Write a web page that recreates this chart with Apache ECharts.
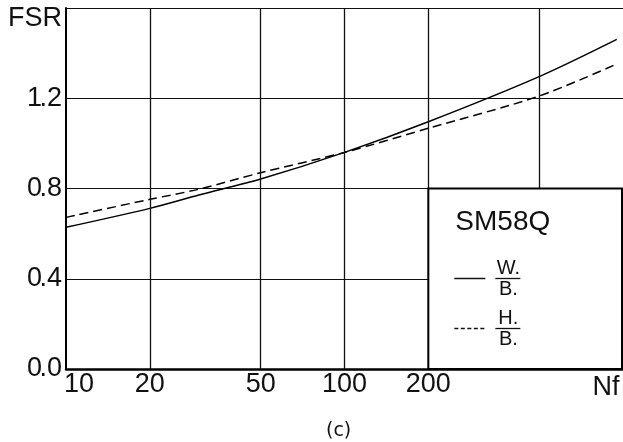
<!DOCTYPE html>
<html>
<head>
<meta charset="utf-8">
<script src="https://cdn.jsdelivr.net/npm/echarts@6/dist/echarts.min.js"></script>
<style>
  html, body { margin: 0; padding: 0; background: #fff; }
  #chart { width: 623px; height: 442px; }
</style>
</head>
<body>
<div id="chart"></div>
<script>
// Cycles to failure (log scale) and the two FSR ratios
const nfValues = [10, 20, 30, 50, 100, 200, 500, 950];
const wbValues = [0.628, 0.712, 0.771, 0.842, 0.960, 1.096, 1.296, 1.461];
const hbValues = [0.672, 0.752, 0.797, 0.870, 0.960, 1.067, 1.210, 1.352];

// Axis ticks, grid positions and texts
const xTickValues = [10, 20, 50, 100, 200];
const xGridValues = [20, 50, 100, 200, 500];
const yTickLabels = ['0.0', '0.4', '0.8', '1.2'];
const xName = 'Nf';
const yName = 'FSR';
const specimen = 'SM58Q';
const wbLabel = ['W.', 'B.'];
const hbLabel = ['H.', 'B.'];
const caption = '(c)';

const FONT = 'Liberation Sans';
const chart = echarts.init(document.getElementById('chart'), null, { renderer: 'canvas' });

const pairs = vals => nfValues.map((n, i) => [n, vals[i]]);

// Tick labels with a tightly set decimal point
const tightDecimal = s => {
  const parts = s.split('.');
  return '{d|' + parts[0] + '}{p|.}{d|' + parts[1] + '}';
};

chart.setOption({
  animation: false,
  backgroundColor: '#fff',
  title: {
    text: caption,
    left: 321, top: 417,
    textStyle: { fontFamily: 'DejaVu Sans', fontSize: 19, fontWeight: 'normal', color: '#111' }
  },
  grid: { left: 66, right: -5, top: 8, bottom: 73, containLabel: false },
  xAxis: {
    type: 'log', logBase: 10, min: 10, max: 1000,
    name: xName, nameLocation: 'end', nameGap: -17,
    nameTextStyle: {
      fontFamily: FONT, fontSize: 27, color: '#111',
      align: 'center', verticalAlign: 'top', padding: [5, 0, 0, 0]
    },
    axisLine: { show: true, onZero: false, lineStyle: { color: '#000', width: 2.5 } },
    axisTick: { show: false },
    minorTick: { show: false },
    splitLine: { show: false },
    axisLabel: {
      customValues: xTickValues,
      margin: 2,
      fontFamily: FONT, fontSize: 27, color: '#111',
      formatter: v => (v === xTickValues[0] ? '{s|' + v + '}' : String(v)),
      rich: { s: { fontFamily: FONT, fontSize: 27, color: '#111', padding: [0, 0, 0, 26] } }
    }
  },
  yAxis: {
    type: 'value', min: 0, max: 1.6, interval: 0.4,
    name: yName, nameLocation: 'end', nameGap: -11,
    nameTextStyle: {
      fontFamily: FONT, fontSize: 27, color: '#111',
      align: 'right', verticalAlign: 'middle', padding: [0, 4, 0, 0]
    },
    axisLine: { show: true, onZero: false, lineStyle: { color: '#000', width: 2 } },
    axisTick: { show: false },
    splitLine: { show: true, lineStyle: { color: '#111', width: 1.2 } },
    axisLabel: {
      margin: 4,
      fontFamily: FONT, fontSize: 27, color: '#111',
      formatter: v => {
        const s = yTickLabels[Math.round(v / 0.4)];
        return s ? tightDecimal(s) : '';
      },
      rich: {
        d: { fontFamily: FONT, fontSize: 27, color: '#111' },
        p: { fontFamily: FONT, fontSize: 27, color: '#111', width: 5 }
      }
    }
  },
  series: [
    {
      name: 'W/B', type: 'line', data: pairs(wbValues),
      smooth: 0.3, symbol: 'none', z: 3,
      lineStyle: { color: '#000', width: 1.5, type: 'solid' },
      markLine: {
        silent: true, symbol: 'none', animation: false,
        label: { show: false },
        lineStyle: { color: '#111', width: 1.3, type: 'solid' },
        data: xGridValues.map(v => ({ xAxis: v }))
      }
    },
    {
      name: 'H/B', type: 'line', data: pairs(hbValues),
      smooth: 0.3, symbol: 'none', z: 3,
      lineStyle: { color: '#000', width: 1.5, type: [9, 5] }
    }
  ]
});

// Legend panel anchored to the 200-cycle / 0.8 grid corner
const [bx0, by0] = chart.convertToPixel({ gridIndex: 0 }, [200, 0.8]);
const [, by1] = chart.convertToPixel({ gridIndex: 0 }, [200, 0]);
const bx1 = 622;

const txt = (s, x, y, size, align) => ({
  type: 'text', z: 102, x, y,
  style: { text: s, fontFamily: FONT, fontSize: size, fill: '#111', align: align || 'center', verticalAlign: 'middle' }
});
const seg = (x1, y1, x2, y2, dash, w) => ({
  type: 'line', z: 102,
  shape: { x1, y1, x2, y2 },
  style: { stroke: '#111', lineWidth: w || 1.5, lineDash: dash || null }
});

chart.setOption({
  graphic: [
    {
      type: 'rect', z: 100,
      shape: { x: bx0, y: by0, width: bx1 - bx0, height: by1 - by0 },
      style: { fill: '#fff', stroke: '#000', lineWidth: 2 }
    },
    txt(specimen, bx0 + 27, by0 + 34, 28, 'left'),
    seg(bx0 + 26, by0 + 90, bx0 + 57, by0 + 90),
    txt(wbLabel[0], bx0 + 80, by0 + 80, 20),
    seg(bx0 + 67, by0 + 90, bx0 + 92, by0 + 90, null, 1.3),
    txt(wbLabel[1], bx0 + 80, by0 + 101, 20),
    seg(bx0 + 26, by0 + 140, bx0 + 56, by0 + 140, [4, 2.5]),
    txt(hbLabel[0], bx0 + 80, by0 + 130, 20),
    seg(bx0 + 67, by0 + 140, bx0 + 92, by0 + 140, null, 1.3),
    txt(hbLabel[1], bx0 + 80, by0 + 151, 20)
  ]
});
</script>
</body>
</html>
